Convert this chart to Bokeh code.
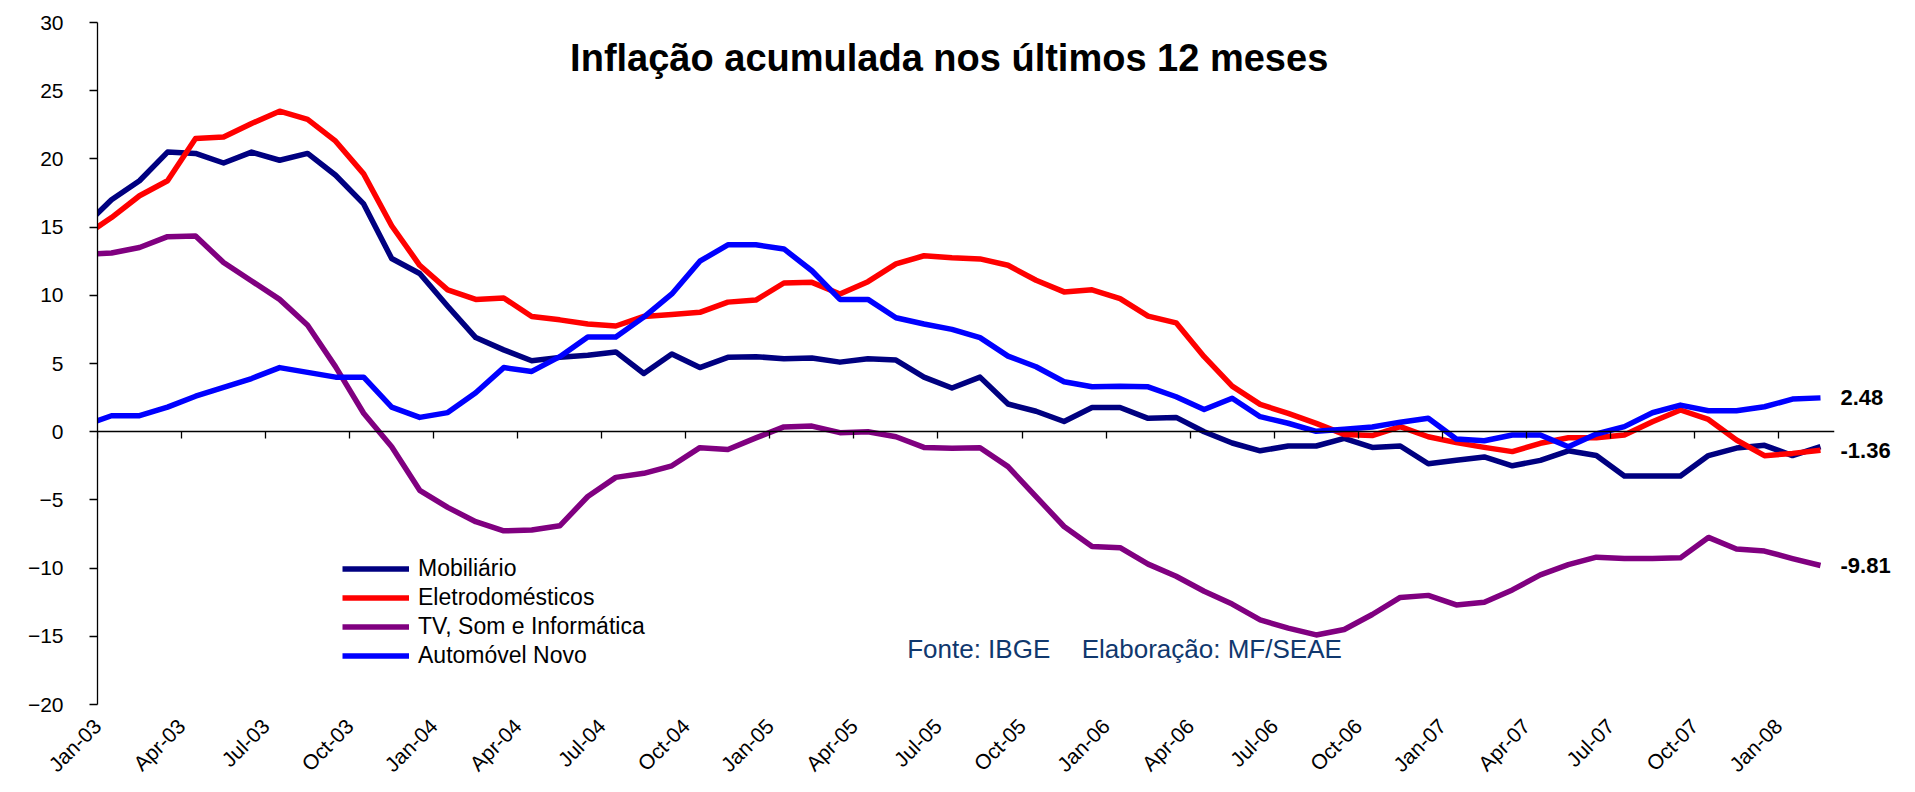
import pandas as pd
from bokeh.plotting import figure
from bokeh.models import FixedTicker, LinearAxis, Label, Legend, LegendItem, ColumnDataSource, NumeralTickFormatter
from bokeh.embed import file_html
from bokeh.resources import INLINE

# Monthly observations: Dec-02 .. Feb-08 (Dec-02 lies just left of the axis and is clipped)
months = list(pd.date_range("2002-12-01", "2008-02-01", freq="MS").strftime("%b-%y"))

mobiliario = [15.0, 17.0, 18.4, 20.5, 20.4, 19.7, 20.5, 19.9, 20.4, 18.8, 16.7, 12.7, 11.6,
              9.2, 6.9, 6.0, 5.2, 5.45, 5.6, 5.85, 4.27, 5.7, 4.7, 5.45, 5.5, 5.35,
              5.4, 5.1, 5.35, 5.25, 4.0, 3.2, 4.0, 2.03, 1.5, 0.75, 1.77, 1.77, 0.98,
              1.05, 0.0, -0.83, -1.4, -1.05, -1.05, -0.49, -1.15, -1.05, -2.35, -2.1, -1.85,
              -2.5, -2.1, -1.4, -1.75, -3.25, -3.25, -3.25, -1.75, -1.2, -1.0, -1.75, -1.1]

eletrodomesticos = [14.3, 15.7, 17.3, 18.4, 21.5, 21.6, 22.6, 23.5, 22.9, 21.3, 18.9, 15.1, 12.2,
                    10.4, 9.7, 9.8, 8.45, 8.2, 7.9, 7.75, 8.45, 8.6, 8.75, 9.5, 9.65, 10.9,
                    10.95, 10.1, 11.0, 12.3, 12.9, 12.75, 12.67, 12.2, 11.1, 10.25, 10.4, 9.76, 8.47,
                    7.98, 5.5, 3.34, 2.0, 1.34, 0.61, -0.2, -0.28, 0.37, -0.37, -0.8, -1.15,
                    -1.46, -0.85, -0.44, -0.44, -0.24, 0.73, 1.59, 0.9, -0.61, -1.76, -1.59, -1.36]

tv_som_info = [13.0, 13.1, 13.5, 14.3, 14.35, 12.4, 11.05, 9.7, 7.8, 4.75, 1.35, -1.1, -4.3,
               -5.55, -6.6, -7.27, -7.2, -6.9, -4.75, -3.35, -3.05, -2.5, -1.17, -1.3, -0.45, 0.35,
               0.41, -0.07, 0.0, -0.37, -1.15, -1.22, -1.17, -2.56, -4.76, -6.95, -8.42, -8.5, -9.71,
               -10.6, -11.7, -12.64, -13.8, -14.4, -14.9, -14.5, -13.4, -12.15, -12.0, -12.7, -12.5,
               -11.6, -10.5, -9.75, -9.2, -9.3, -9.3, -9.25, -7.75, -8.6, -8.75, -9.3, -9.81]

automovel = [0.45, 1.17, 1.17, 1.8, 2.6, 3.25, 3.9, 4.7, 4.35, 4.0, 4.0, 1.8, 1.05,
             1.4, 2.85, 4.7, 4.42, 5.5, 6.95, 6.95, 8.4, 10.1, 12.5, 13.7, 13.7, 13.4,
             11.8, 9.7, 9.7, 8.35, 7.9, 7.5, 6.9, 5.54, 4.76, 3.66, 3.29, 3.34, 3.29,
             2.56, 1.63, 2.45, 1.1, 0.62, 0.03, 0.18, 0.35, 0.7, 0.98, -0.54, -0.66,
             -0.24, -0.24, -1.1, -0.17, 0.37, 1.39, 1.95, 1.54, 1.54, 1.83, 2.39, 2.48]

tick_labels = ["Jan-03", "Apr-03", "Jul-03", "Oct-03", "Jan-04", "Apr-04", "Jul-04", "Oct-04",
               "Jan-05", "Apr-05", "Jul-05", "Oct-05", "Jan-06", "Apr-06", "Jul-06", "Oct-06",
               "Jan-07", "Apr-07", "Jul-07", "Oct-07", "Jan-08"]

series_names = ["Mobiliário", "Eletrodomésticos", "TV, Som e Informática", "Automóvel Novo"]
series_colors = ["#000080", "#FF0000", "#800080", "#0000FF"]
labelled_series = [automovel, eletrodomesticos, tv_som_info]   # last values shown at right

# x position: centre of each month slot, Jan-03 slot starting at 0
xpos = [i - 0.5 for i in range(len(months))]
tick_pos = [3 * i for i in range(len(tick_labels))]

src = ColumnDataSource(dict(x=xpos, month=months, mob=mobiliario, ele=eletrodomesticos,
                            tv=tv_som_info, auto=automovel))
cols = ["mob", "ele", "tv", "auto"]

p = figure(frame_width=1737, frame_height=682, output_backend="svg", toolbar_location=None,
           x_range=(0, 62), y_range=(-20, 30),
           min_border_left=97, min_border_right=71, min_border_top=22, min_border_bottom=80,
           x_axis_location=None)
p.xgrid.visible = False
p.ygrid.visible = False
p.outline_line_color = None
p.background_fill_color = "white"

# y axis
yax = p.yaxis[0]
yax.ticker = FixedTicker(ticks=list(range(-20, 31, 5)))
yax.axis_line_color = "black"
yax.axis_line_width = 1.3
yax.major_tick_in = 0
yax.major_tick_out = 8
yax.major_tick_line_width = 1.3
yax.minor_tick_line_color = None
yax.major_label_text_font = "Liberation Sans"
yax.major_label_text_font_size = "21px"
yax.major_label_text_color = "black"
yax.major_label_standoff = 26

# x labels at the bottom
lab_ax = LinearAxis(ticker=FixedTicker(ticks=tick_pos),
                    major_label_overrides={t: l for t, l in zip(tick_pos, tick_labels)})
lab_ax.axis_line_color = None
lab_ax.major_tick_line_color = None
lab_ax.minor_tick_line_color = None
lab_ax.major_tick_out = 0
lab_ax.major_label_orientation = 3.14159265 / 4
lab_ax.major_label_text_font = "Liberation Sans"
lab_ax.major_label_text_font_size = "21px"
lab_ax.major_label_text_color = "black"
lab_ax.major_label_standoff = 18
p.add_layout(lab_ax, "below")

# x axis line with ticks at y = 0
zero_ax = LinearAxis(ticker=FixedTicker(ticks=tick_pos), fixed_location=0)
zero_ax.axis_line_color = "black"
zero_ax.axis_line_width = 1.3
zero_ax.major_tick_in = 0
zero_ax.major_tick_out = 7
zero_ax.major_tick_line_width = 1.3
zero_ax.minor_tick_line_color = None
zero_ax.major_label_text_font_size = "0px"
zero_ax.major_label_text_alpha = 0
zero_ax.major_label_standoff = 0
p.add_layout(zero_ax, "below")

# end-value labels as a right axis ticked at the last values
end_ax = LinearAxis(ticker=FixedTicker(ticks=[s[-1] for s in labelled_series]),
                    formatter=NumeralTickFormatter(format="0.00"))
end_ax.axis_line_color = None
end_ax.major_tick_line_color = None
end_ax.minor_tick_line_color = None
end_ax.major_tick_out = 0
end_ax.major_tick_in = 0
end_ax.major_label_standoff = 6
end_ax.major_label_text_font = "Liberation Sans"
end_ax.major_label_text_font_style = "bold"
end_ax.major_label_text_font_size = "22px"
end_ax.major_label_text_color = "black"
p.add_layout(end_ax, "right")

items = []
for name, col, color in zip(series_names, cols, series_colors):
    r = p.line("x", col, source=src, line_color=color, line_width=5.5, line_join="round")
    items.append(LegendItem(label=name, renderers=[r]))

legend = Legend(items=items, location=(245, 34), orientation="vertical",
                glyph_width=67, glyph_height=29, label_height=29, label_standoff=9,
                label_text_font="Liberation Sans", label_text_font_size="23px",
                label_text_color="black", padding=0, spacing=0, margin=0,
                border_line_color=None, background_fill_alpha=0)
p.add_layout(legend, "center")

# title inside plot area
p.add_layout(Label(x=30.4, y=27.43, text="Inflação acumulada nos últimos 12 meses",
                   text_align="center", text_baseline="alphabetic",
                   text_font="Liberation Sans", text_font_style="bold",
                   text_font_size="38px", text_color="black"))

# source note
note_color = "#10386E"
p.add_layout(Label(x=28.9, y=-15.9, text="Fonte: IBGE", text_align="left",
                   text_baseline="alphabetic", text_font="Liberation Sans",
                   text_font_size="26px", text_color=note_color))
p.add_layout(Label(x=35.13, y=-15.9, text="Elaboração: MF/SEAE", text_align="left",
                   text_baseline="alphabetic", text_font="Liberation Sans",
                   text_font_size="26px", text_color=note_color))

open("out.html", "w").write(file_html(p, INLINE))
